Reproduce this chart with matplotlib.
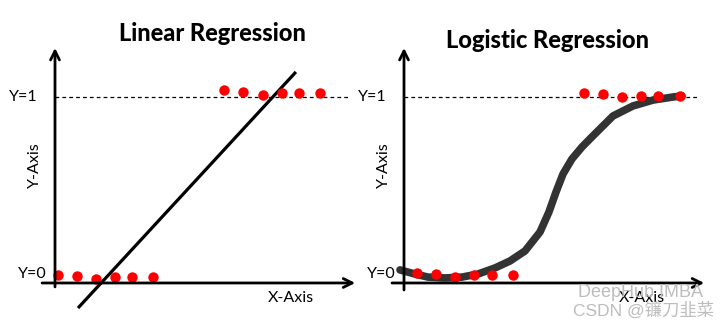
import matplotlib
matplotlib.use("Agg")
import matplotlib.pyplot as plt

plt.rcParams['font.family'] = ['Lato', 'Noto Sans CJK SC', 'DejaVu Sans']

# data (x in dot spacings from the y axis, y in class units: 0 and 1)
lin_x_neg = [0.16, 1.16, 2.16, 3.16, 4.05, 5.16]
lin_y_neg = [0.006, 0.0, -0.017, -0.006, -0.006, -0.006]
lin_x_pos = [8.89, 9.89, 10.95, 11.95, 12.84, 13.95]
lin_y_pos = [1.04, 1.03, 1.01, 1.02, 1.02, 1.02]
lin_fit_x = [1.21, 12.68]
lin_fit_y = [-0.179, 1.14]

log_x_neg = [0.68, 1.68, 2.68, 3.68, 4.63, 5.74]
log_y_neg = [0.017, 0.011, -0.006, 0.006, 0.006, 0.006]
log_x_pos = [9.47, 10.47, 11.47, 12.47, 13.37, 14.53]
log_y_pos = [1.022, 1.017, 1.0, 1.006, 1.006, 1.006]
log_fit_x = [-0.21, 0.58, 1.26, 2.16, 3.05, 3.89, 4.79, 5.58, 6.37, 7.16, 7.63,
             8.00, 8.37, 8.84, 9.37, 9.89, 11.00, 12.05, 13.11, 14.16, 14.63]
log_fit_y = [0.034, 0.011, -0.006, -0.011, -0.006, 0.011, 0.045, 0.084, 0.140,
             0.246, 0.358, 0.469, 0.570, 0.654, 0.721, 0.777, 0.894, 0.950,
             0.983, 1.000, 1.006]

titles = ["Linear Regression", "Logistic Regression"]

fig = plt.figure(figsize=(7.25, 3.27), dpi=100)
ax1 = fig.add_axes([0, 0, 362 / 725, 1])
ax2 = fig.add_axes([362 / 725, 0, 363 / 725, 1])
ax1.set_xlim(-2.895, 16.158)
ax2.set_xlim(-2.2105, 16.895)
for ax in (ax1, ax2):
    ax.set_ylim(-0.2849, 1.5419)
    ax.axis("off")


def draw_frame(ax, x_right, x_left, y_bottom):
    arrow = dict(arrowstyle="->", lw=2.0, color="black", mutation_scale=16,
                 shrinkA=0, shrinkB=0)
    ax.annotate("", xy=(0, 1.274), xytext=(0, y_bottom), arrowprops=arrow)
    ax.annotate("", xy=(x_right, -0.039), xytext=(x_left, -0.039), arrowprops=arrow)
    ax.plot([0, x_right - 0.3], [1, 1], ls=(0, (3, 2.5)), color="black", lw=0.9)
    ax.text(-0.9, 1.0, "Y=1", ha="right", va="center", fontsize=11.5)
    ax.text(-0.45, 0.01, "Y=0", ha="right", va="center", fontsize=11.5)
    ax.text(-1.05, 0.62, "Y-Axis", ha="center", va="center", rotation=90, fontsize=11.5)


# left panel
draw_frame(ax1, 15.8, -0.68, -0.061)
ax1.plot(lin_fit_x, lin_fit_y, color="black", lw=2.3, solid_capstyle="butt")
ax1.plot(lin_x_neg, lin_y_neg, "o", color="red", ms=7.5, mec="none")
ax1.plot(lin_x_pos, lin_y_pos, "o", color="red", ms=7.5, mec="none")
ax1.text(12.4, -0.123, "X-Axis", ha="center", va="center", fontsize=11.5)
ax1.text(8.26, 1.354, titles[0], ha="center", va="center", fontsize=17, fontweight="black")

# right panel
draw_frame(ax2, 15.8, -0.63, -0.078)
ax2.plot(log_fit_x, log_fit_y, color="#333333", lw=5.5, solid_capstyle="round",
         solid_joinstyle="round")
ax2.plot(log_x_neg, log_y_neg, "o", color="red", ms=7.5, mec="none")
ax2.plot(log_x_pos, log_y_pos, "o", color="red", ms=7.5, mec="none")
ax2.text(12.5, -0.123, "X-Axis", ha="center", va="center", fontsize=11.5)
ax2.text(7.53, 1.316, titles[1], ha="center", va="center", fontsize=17, fontweight="black")

# watermark
wm = ['Liberation Sans', 'Noto Sans CJK SC']
fig.text(0.797, 0.105, "DeepHub IMBA", color="#bdbdbd", fontsize=13, ha="left",
         va="center", family=wm)
fig.text(0.79, 0.05, "CSDN @镰刀韭菜", color="#bdbdbd", fontsize=12.5, ha="left",
         va="center", family=wm)

fig.savefig("out.png", dpi=100, facecolor="white")
